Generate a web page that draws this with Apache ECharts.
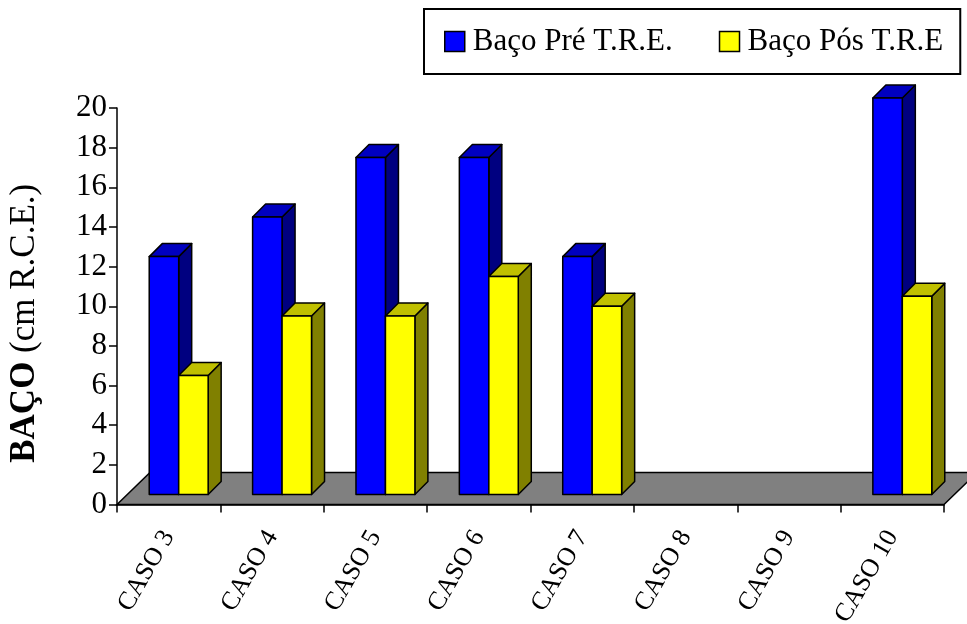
<!DOCTYPE html>
<html>
<head>
<meta charset="utf-8">
<script src="https://cdn.jsdelivr.net/npm/echarts@6/dist/echarts.min.js"></script>
<style>
  html, body { margin: 0; padding: 0; background: #fff; }
  #chart { width: 967px; height: 624px; }
</style>
</head>
<body>
<div id="chart"></div>
<script>
// Spleen size (cm below the costal margin) before and after enzyme replacement therapy
const categorias = ['CASO 3', 'CASO 4', 'CASO 5', 'CASO 6', 'CASO 7', 'CASO 8', 'CASO 9', 'CASO 10'];
const bacoPre = [12, 14, 17, 17, 12, null, null, 20];
const bacoPos = [6, 9, 9, 11, 9.5, null, null, 10];
const yMin = 0, yMax = 20, yStep = 2;

const SERIF = "'Liberation Serif', 'Times New Roman', serif";

// pseudo-3D geometry (pixels)
const FLOOR_DX = 33, FLOOR_DY = 32;   // depth of the floor plate
const BAR_OX = 10, BAR_OY = 10;       // bars stand a little behind the front edge
const BAR_D = 13;                     // depth of each bar
const BAR_FRAC = 0.285;               // bar width as a share of the category band

function toData(values) {
  const out = [];
  values.forEach((v, i) => { if (v !== null) out.push([i, v]); });
  return out;
}

function barRenderer(slot, front, top, side) {
  return function (params, api) {
    const i = api.value(0), v = api.value(1);
    const base = api.coord([i, 0]);
    const peak = api.coord([i, v]);
    const band = api.size([1, 0])[0];
    const w = band * BAR_FRAC;
    const l = base[0] - w + slot * w + BAR_OX;
    const r = l + w;
    const b = base[1] - BAR_OY;
    const t = peak[1] - BAR_OY;
    const stroke = { stroke: '#000', lineWidth: 1.5, lineJoin: 'round' };
    return {
      type: 'group',
      children: [
        { type: 'polygon', shape: { points: [[r, t], [r, b], [r + BAR_D, b - BAR_D], [r + BAR_D, t - BAR_D]] },
          style: Object.assign({ fill: side }, stroke) },
        { type: 'polygon', shape: { points: [[l, t], [r, t], [r + BAR_D, t - BAR_D], [l + BAR_D, t - BAR_D]] },
          style: Object.assign({ fill: top }, stroke) },
        { type: 'rect', shape: { x: l, y: t, width: w, height: b - t },
          style: Object.assign({ fill: front }, stroke) }
      ]
    };
  };
}

function floorRenderer(params, api) {
  const cs = params.coordSys;
  const y0 = cs.y + cs.height;
  return {
    type: 'polygon',
    shape: { points: [[cs.x, y0], [cs.x + cs.width, y0], [cs.x + cs.width + FLOOR_DX, y0 - FLOOR_DY], [cs.x + FLOOR_DX, y0 - FLOOR_DY]] },
    style: { fill: '#808080', stroke: '#000', lineWidth: 1.5 }
  };
}

const chart = echarts.init(document.getElementById('chart'), null, { renderer: 'canvas' });
chart.setOption({
  animation: false,
  backgroundColor: '#fff',
  grid: { left: 117, right: 23, top: 108, bottom: 119.5, containLabel: false, outerBoundsMode: 'none' },
  legend: {
    left: 424, top: 9,
    padding: [17, 17, 17, 20],
    borderColor: '#000', borderWidth: 2,
    itemGap: 46, itemWidth: 20, itemHeight: 20,
    selectedMode: false,
    textStyle: { fontFamily: SERIF, fontSize: 31, color: '#000', lineHeight: 31, padding: [0, 0, 0, 3] },
    data: [
      { name: 'Baço Pré T.R.E.', icon: 'rect', itemStyle: { color: '#0000FF', borderColor: '#000', borderWidth: 1.5 } },
      { name: 'Baço Pós T.R.E', icon: 'rect', itemStyle: { color: '#FFFF00', borderColor: '#000', borderWidth: 1.5 } }
    ]
  },
  xAxis: {
    type: 'category',
    data: categorias,
    boundaryGap: true,
    axisLine: { show: true, lineStyle: { color: '#000', width: 1.5 } },
    axisTick: { show: true, length: 8, lineStyle: { color: '#000', width: 1.5 } },
    axisLabel: { rotate: 60, margin: 28, fontFamily: SERIF, fontSize: 26, color: '#000', interval: 0 },
    splitLine: { show: false }
  },
  yAxis: {
    type: 'value',
    min: yMin, max: yMax, interval: yStep,
    name: '{b|BAÇO} (cm R.C.E.)',
    nameLocation: 'middle',
    nameRotate: 90,
    nameGap: 75,
    nameTextStyle: {
      fontFamily: SERIF, fontSize: 35, color: '#000', padding: [0, 34, 0, 0],
      rich: { b: { fontFamily: SERIF, fontSize: 35, fontWeight: 'bold', color: '#000' } }
    },
    axisLine: { show: true, lineStyle: { color: '#000', width: 1.5 } },
    axisTick: { show: true, length: 8, lineStyle: { color: '#000', width: 1.5 } },
    axisLabel: { margin: 10, fontFamily: SERIF, fontSize: 31, color: '#000' },
    splitLine: { show: false }
  },
  series: [
    {
      type: 'custom', name: 'floor', z: 1, clip: false, silent: true,
      renderItem: floorRenderer,
      data: [[0, 0]]
    },
    {
      type: 'custom', name: 'Baço Pré T.R.E.', z: 2, clip: false,
      itemStyle: { color: '#0000FF' },
      encode: { x: 0, y: 1 },
      renderItem: barRenderer(0, '#0000FF', '#0000C0', '#000080'),
      data: toData(bacoPre)
    },
    {
      type: 'custom', name: 'Baço Pós T.R.E', z: 2, clip: false,
      itemStyle: { color: '#FFFF00' },
      encode: { x: 0, y: 1 },
      renderItem: barRenderer(1, '#FFFF00', '#C0C000', '#808000'),
      data: toData(bacoPos)
    }
  ]
});
</script>
</body>
</html>
